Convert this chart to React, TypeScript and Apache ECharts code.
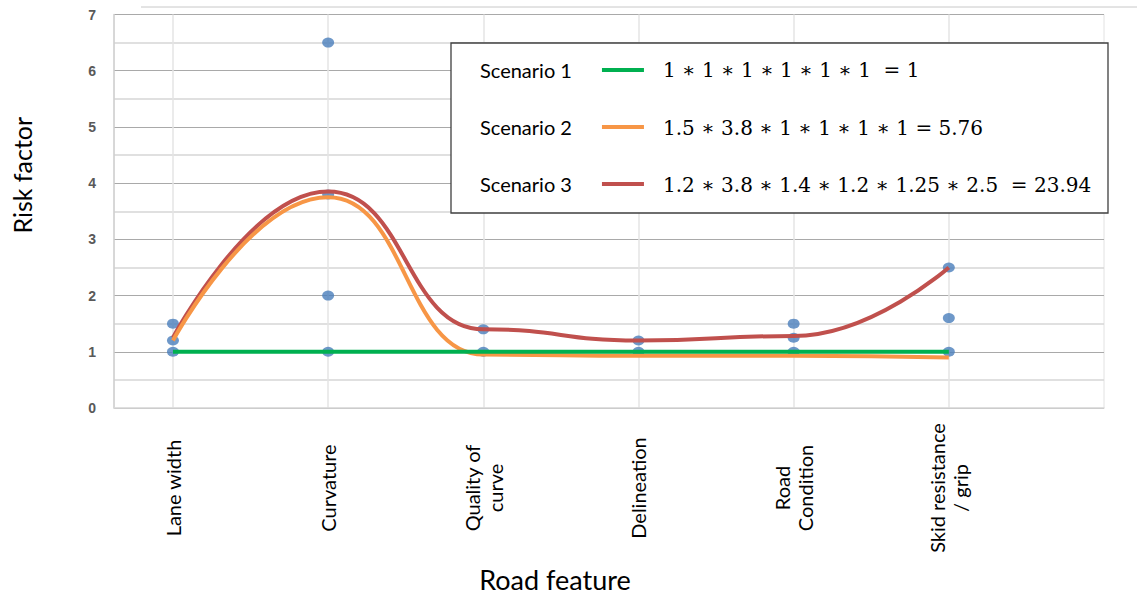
import React, { useEffect, useRef } from "react";
import * as echarts from "echarts";

// ---- data ----
const categories = [
  "Lane width",
  "Curvature",
  "Quality of\ncurve",
  "Delineation",
  "Road\nCondition",
  "Skid resistance\n/ grip",
];
const categoryPositions = [1, 2, 3, 4, 5, 6];

const scenarioNames = ["Scenario 1", "Scenario 2", "Scenario 3"];
const scenario1 = [1, 1, 1, 1, 1, 1];
const scenario2 = [1.2, 3.75, 0.95, 0.93, 0.93, 0.9];
const scenario3 = [1.25, 3.85, 1.4, 1.2, 1.28, 2.5];

const formulas = [
  "1 ∗ 1 ∗ 1 ∗ 1 ∗ 1 ∗ 1  = 1",
  "1.5 ∗ 3.8 ∗ 1 ∗ 1 ∗ 1 ∗ 1 = 5.76",
  "1.2 ∗ 3.8 ∗ 1.4 ∗ 1.2 ∗ 1.25 ∗ 2.5  = 23.94",
];

// observed risk factor values per road feature
const laneWidthPoints = [1, 1.2, 1.5];
const curvaturePoints = [1, 2, 3.8, 6.5];
const qualityPoints = [1, 1.4];
const delineationPoints = [1, 1.2];
const roadConditionPoints = [1, 1.25, 1.5];
const skidPoints = [1, 1.6, 2.5];

const yTicks = [0, 7, 1];

export default function App() {
  const ref = useRef<HTMLDivElement>(null);

  useEffect(() => {
    if (!ref.current) return;
    const chart = echarts.init(ref.current, undefined, { renderer: "svg" });

    const pointGroups = [
      laneWidthPoints,
      curvaturePoints,
      qualityPoints,
      delineationPoints,
      roadConditionPoints,
      skidPoints,
    ];
    const scatterData: number[][] = [];
    pointGroups.forEach((g, i) =>
      g.forEach((v) => scatterData.push([categoryPositions[i], v]))
    );
    const toXY = (arr: number[]) => arr.map((v, i) => [categoryPositions[i], v]);

    const colors = ["#00b050", "#f79646", "#c0504d"];
    const lineSeries = (idx: number, data: number[]) => ({
      name: scenarioNames[idx],
      type: "line",
      data: toXY(data),
      smooth: 0.5,
      smoothMonotone: "x",
      showSymbol: false,
      symbol: "none",
      lineStyle: { color: colors[idx], width: 4 },
      itemStyle: { color: colors[idx] },
    });

    const formulaY = [70, 128, 185];

    chart.setOption({
      animation: false,
      backgroundColor: "#ffffff",
      grid: {
        left: 114,
        right: 33,
        top: 14.5,
        bottom: 197,
        show: true,
        borderColor: "#e2e2e2",
        borderWidth: 1,
      },
      xAxis: {
        type: "value",
        min: 0.62,
        max: 7,
        axisLine: { show: true, lineStyle: { color: "#d9d9d9", width: 1.5 } },
        axisTick: { show: false, customValues: categoryPositions },
        axisLabel: {
          customValues: categoryPositions,
          formatter: (v: number) => categories[Math.round(v) - 1] ?? "",
          rotate: 90,
          align: "center",
          verticalAlign: "middle",
          margin: 80,
          fontFamily: "Lato",
          fontSize: 20,
          lineHeight: 23,
          color: "#000000",
        },
        splitLine: { show: true, lineStyle: { color: "#e4e4e4", width: 1.5 } },
        name: "Road feature",
        nameLocation: "middle",
        nameGap: 158,
        nameTextStyle: {
          fontFamily: "Lato",
          fontSize: 27,
          color: "#000000",
          padding: [0, 108, 0, 0],
        },
      },
      yAxis: {
        type: "value",
        min: yTicks[0],
        max: yTicks[1],
        interval: yTicks[2],
        axisLine: { show: true, lineStyle: { color: "#cfcfcf", width: 1.5 } },
        axisTick: { show: false },
        axisLabel: {
          fontFamily: "Liberation Sans",
          fontWeight: "bold",
          fontSize: 14,
          color: "#595959",
          margin: 18,
        },
        splitLine: { show: true, lineStyle: { color: "#a9a9a9", width: 1 } },
        minorTick: { show: false, splitNumber: 2 },
        minorSplitLine: { show: true, lineStyle: { color: "#d6d6d6", width: 1.5 } },
        name: "Risk factor",
        nameLocation: "middle",
        nameGap: 80,
        nameTextStyle: {
          fontFamily: "Lato",
          fontSize: 25,
          color: "#000000",
          padding: [0, 0, 0, 72],
        },
      },
      legend: {
        data: scenarioNames,
        orient: "vertical",
        left: 480,
        top: 59,
        align: "right",
        padding: 0,
        itemWidth: 42,
        itemHeight: 4,
        itemGap: 35,
        icon: "rect",
        z: 10,
        textStyle: {
          fontFamily: "Lato",
          fontSize: 20,
          lineHeight: 22,
          color: "#000000",
          padding: [0, 25, 0, 0],
        },
      },
      graphic: [
        {
          type: "line",
          shape: { x1: 141, y1: 7, x2: 1137, y2: 7 },
          style: { stroke: "#c8c8c8", lineWidth: 1 },
          z: 1,
        },
        {
          type: "rect",
          shape: { x: 451, y: 43, width: 657, height: 170 },
          style: { fill: "#ffffff", stroke: "#3f3f3f", lineWidth: 1.3 },
          z: 5,
        },
        ...formulas.map((f, i) => ({
          type: "text",
          x: 663,
          y: formulaY[i],
          z: 11,
          style: {
            text: f,
            fontFamily: "DejaVu Serif",
            fontSize: 20,
            fill: "#000000",
            verticalAlign: "middle",
            align: "left",
          },
        })),
      ],
      series: [
        {
          name: "Observed",
          type: "scatter",
          data: scatterData,
          symbol: "circle",
          symbolSize: [12, 10],
          itemStyle: { color: "#4a7ebb" },
          z: 2,
        },
        lineSeries(2, scenario3),
        lineSeries(1, scenario2),
        lineSeries(0, scenario1),
      ],
    });

    return () => chart.dispose();
  }, []);

  return (
    <div
      ref={ref}
      style={{ position: "absolute", left: 0, top: 0, width: 1137, height: 605, background: "#fff" }}
    />
  );
}
